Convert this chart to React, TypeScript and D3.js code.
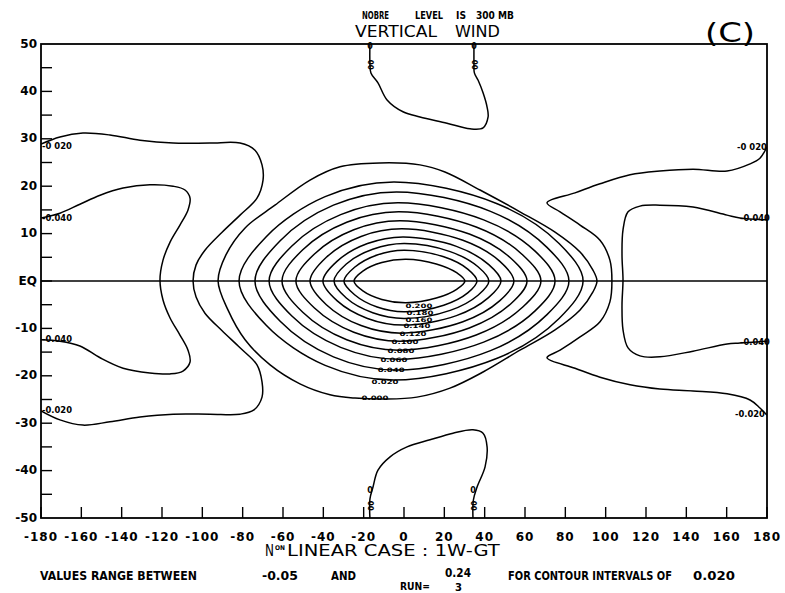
import React from "react";
import * as d3 from "d3";

// Frame and axis ticks
const lonTicks = d3.range(-180, 181, 20);
const latMajor = [50, 40, 30, 20, 10, 0, -10, -20, -30, -40, -50];
const latLabels = ["50", "40", "30", "20", "10", "EQ", "-10", "-20", "-30", "-40", "-50"];
const latMinor = d3.range(-45, 50, 5);

// Contour levels of the central maximum (0.000 outermost, 0.200 innermost)
const centralLevels = [0.0, 0.02, 0.04, 0.06, 0.08, 0.1, 0.12, 0.14, 0.16, 0.18, 0.2];

// Closed contours as [lon, lat]
const c000 = [[-92.2, 0], [-88.3, 5.5], [-78.8, 11.2], [-64, 16], [-46.6, 21.3], [-31.7, 24.1], [-11.9, 24.9], [7.9, 24.5], [20.3, 23], [37.7, 19.2], [57.5, 14.6], [74.9, 10.3], [87.3, 6.1], [93.7, 2.3], [95.7, 0], [93.7, -2.3], [87.3, -6.1], [74.9, -10.3], [57.5, -14.6], [39.2, -19.2], [22.8, -22.6], [6.4, -24.5], [-9.4, -24.9], [-24.3, -24.7], [-36.7, -24], [-51.6, -21.7], [-66.4, -17.7], [-78.8, -12.4], [-87.3, -6.1]];
const c020 = [[-81.8, 0], [-68.2, 9.4], [-39.1, 17.8], [-5, 20.9], [46.2, 16.3], [76.9, 7.9], [88.8, 0], [76.9, -7.9], [46.2, -16.3], [-5, -20.9], [-39.1, -17.8], [-68.2, -9.4]];
const c040 = [[-73.9, 0], [-61.4, 8.5], [-35, 16], [-3.8, 18.8], [42.9, 14.7], [70.9, 7.1], [81.8, 0], [70.9, -7.1], [42.9, -14.7], [-3.8, -18.8], [-35, -16], [-61.4, -8.5]];
const c060 = [[-66.9, 0], [-55.6, 7.4], [-31.4, 14], [-3.1, 16.5], [39.5, 12.9], [65, 6.3], [74.9, 0], [65, -6.3], [39.5, -12.9], [-3.1, -16.5], [-31.4, -14], [-55.6, -7.4]];
const c080 = [[-60.5, 0], [-50.2, 6.6], [-28.4, 12.4], [-2.7, 14.6], [35.8, 11.4], [58.9, 5.5], [67.9, 0], [58.9, -5.5], [35.8, -11.4], [-2.7, -14.6], [-28.4, -12.4], [-50.2, -6.6]];
const c100 = [[-53.6, 0], [-44.4, 5.7], [-24.9, 10.8], [-2, 12.7], [32.4, 9.9], [53, 4.8], [61, 0], [53, -4.8], [32.4, -9.9], [-2, -12.7], [-24.9, -10.8], [-44.4, -5.7]];
const c120 = [[-46.6, 0], [-38.5, 5], [-21.3, 9.4], [-1.1, 11], [29.2, 8.6], [47.4, 4.2], [54.5, 0], [47.4, -4.2], [29.2, -8.6], [-1.1, -11], [-21.3, -9.4], [-38.5, -5]];
const c140 = [[-40.2, 0], [-33.1, 4.2], [-18.1, 7.9], [-0.5, 9.3], [26, 7.3], [41.9, 3.5], [48.1, 0], [41.9, -3.5], [26, -7.3], [-0.5, -9.3], [-18.1, -7.9], [-33.1, -4.2]];
const c160 = [[-34.7, 0], [-28.6, 3.6], [-15.5, 6.7], [0, 7.9], [22.9, 6.2], [36.7, 3], [42.1, 0], [36.7, -3], [22.9, -6.2], [0, -7.9], [-15.5, -6.7], [-28.6, -3.6]];
const c180 = [[-29.8, 0], [-24.5, 2.9], [-13.3, 5.5], [0, 6.5], [19.7, 5.1], [31.6, 2.5], [36.2, 0], [31.6, -2.5], [19.7, -5.1], [0, -6.5], [-13.3, -5.5], [-24.5, -2.9]];
const c200 = [[-24.8, 0], [-20.4, 2.1], [-11, 3.9], [1, 4.6], [16, 3.6], [26.3, 1.7], [30.2, 0], [26.3, -1.7], [16, -3.6], [1, -4.6], [-11, -3.9], [-20.4, -2.1]];
const centralRings = [c000, c020, c040, c060, c080, c100, c120, c140, c160, c180, c200];

// Where each central level is annotated (lon, lat)
const centralLabelLon = [-14.4, -9.4, -6.4, -5, -1.5, 0.5, 4.5, 6.4, 7.4, 7.9, 7.4];
const centralLabelLat = [-24.7, -21.3, -18.8, -16.7, -14.8, -12.9, -11.2, -9.6, -8.2, -6.8, -5.3];

// Negative contours wrapping the dateline (open at the frame)
const m020West = [[-180, 28.9], [-170.6, 30.4], [-159.2, 31.2], [-145.8, 30.8], [-130.9, 29.7], [-114.5, 29.1], [-96.2, 29.1], [-81.3, 29.1], [-73.9, 27.6], [-70.4, 24.5], [-69.9, 21.3], [-72.9, 17.5], [-81.3, 13.9], [-90.2, 10.3], [-98.7, 6.5], [-103.1, 3.4], [-104.6, 0], [-103.1, -3.4], [-98.7, -6.8], [-90.2, -10.5], [-81.3, -14.1], [-72.9, -17.7], [-70.4, -21.3], [-70.4, -24.5], [-74.4, -27.2], [-81.3, -28.1], [-96.2, -28.1], [-114.5, -28.1], [-130.9, -28.7], [-145.8, -29.7], [-159.2, -30.4], [-170.6, -29.3], [-180, -27.4]];
const m020East = [[180, 28.3], [176.5, 25.9], [171.6, 24.7], [160.2, 23.2], [143.3, 23.6], [126.9, 23.2], [112.1, 22.4], [97.2, 20.5], [84.8, 18.6], [70.9, 16.5], [77.4, 14.6], [87.3, 11.8], [97.2, 8.6], [102.1, 4.4], [103.1, 0], [102.1, -4.4], [97.2, -8.6], [87.3, -11.8], [77.4, -14.6], [70.9, -16.2], [84.8, -18.4], [97.2, -20.3], [112.1, -21.9], [126.9, -22.8], [143.3, -23.2], [160.2, -23.8], [171.6, -25.1], [176.5, -26.8], [180, -28.3]];
const m040West = [[-180, 13.3], [-170.6, 14.3], [-160.7, 16.2], [-150.7, 18.1], [-139.3, 19.6], [-126, 20.3], [-114.5, 20], [-108.6, 19.2], [-106.1, 17.5], [-107.1, 15], [-111.1, 11.8], [-116, 8.2], [-119.5, 4.4], [-121, 0.2], [-119.5, -4], [-116, -7.8], [-111.1, -11.4], [-107.1, -14.6], [-106.1, -17.1], [-109.6, -19], [-116, -19.6], [-126, -19.4], [-139.3, -18.4], [-150.7, -16.2], [-160.7, -13.7], [-170.6, -12.7], [-180, -12.4]];
const m040East = [[180, 12.9], [166.6, 13.3], [160.2, 13.9], [143.3, 15.6], [126.9, 16], [117, 15.8], [111.1, 14.6], [108.6, 10.8], [108.1, 5.5], [108.6, 0.2], [108.1, -5.1], [108.6, -10.3], [111.1, -14.1], [117, -15.8], [126.9, -16], [143.3, -14.8], [160.2, -13.3], [166.6, -13.1], [180, -12.7]];

// Zero contours of the polar lobes
const zeroNorth = [[-16.9, 50], [-16.9, 46], [-16.4, 43.9], [-12.9, 41.8], [-8.4, 38.2], [-0.5, 35.7], [7.9, 34.6], [21.3, 33.3], [32.7, 32.1], [39.2, 32.3], [41.7, 34.6], [41.2, 36.7], [39.2, 39.7], [36.7, 42.4], [34.9, 43.9], [34.7, 46], [34.7, 50]];
const zeroSouth = [[-16.9, -50], [-16.9, -46], [-15.4, -43.5], [-12.9, -39.9], [-6.9, -37.1], [1.5, -35], [12.9, -33.5], [24.3, -32.1], [34.2, -31.4], [39.2, -32.1], [41.2, -35], [40.2, -39.2], [36.2, -43.5], [34.4, -46.2], [34.2, -50]];

// Annotations of the dateline contours: text, lon, lat
const edgeLabelText = ["-0 020", "-0.040", "-0.040", "-0.020", "-0 020", "-0.040", "-0.040", "-0.020"];
const edgeLabelLon = [-179.5, -179.5, -179.5, -179.5, 165.1, 166.6, 166.6, 164.1];
const edgeLabelLat = [28.3, 13.1, -12.4, -27.4, 28.1, 13.1, -12.9, -28.1];

// Zero-contour tags on the lobe legs: lon, lat
const zeroTagLon = [-16.9, 34.7, -16.9, 34.2];
const zeroTagLat = [49.4, 49.4, -44.1, -44.1];
const zeroTagOvalLat = [45.6, 45.6, -47.4, -47.4];

const FAMILY = "DejaVu Sans";
const FONT = "'DejaVu Sans', 'Liberation Sans', sans-serif";

// Text width helper so that labels can be squeezed horizontally to a set width
let measureCtx: CanvasRenderingContext2D | null = null;
function textWidth(str: string, size: number, weight: number): number {
  if (!measureCtx && typeof document !== "undefined") {
    measureCtx = document.createElement("canvas").getContext("2d");
  }
  if (!measureCtx) return str.length * size * 0.6;
  measureCtx.font = `${weight} ${size}px "${FAMILY}"`;
  return measureCtx.measureText(str).width || str.length * size * 0.6;
}

type FitProps = {
  x: number;
  y: number;
  w: number;
  size: number;
  weight?: number;
  anchor?: "start" | "middle" | "end";
  baseline?: "middle" | "auto";
  children: string;
};

// Text squeezed to width w (via a horizontal scale, so its box stays true)
function FitText({ x, y, w, size, weight = 400, anchor = "start", baseline = "auto", children }: FitProps) {
  const k = w / textWidth(children, size, weight);
  return (
    <text
      transform={`translate(${x},${y}) scale(${k},1)`}
      fontSize={size}
      fontWeight={weight}
      textAnchor={anchor}
      dominantBaseline={baseline === "middle" ? "middle" : undefined}
    >
      {children}
    </text>
  );
}

export default function App() {
  const left = 41, right = 767, top = 44, bottom = 518;
  const x = d3.scaleLinear().domain([-180, 180]).range([left, right]);
  const y = d3.scaleLinear().domain([-50, 50]).range([bottom, top]);

  const closed = d3
    .line<number[]>()
    .x((d) => x(d[0]))
    .y((d) => y(d[1]))
    .curve(d3.curveCatmullRomClosed.alpha(0.5));
  const open = d3
    .line<number[]>()
    .x((d) => x(d[0]))
    .y((d) => y(d[1]))
    .curve(d3.curveCatmullRom.alpha(0.5));

  const openCurves = [m020West, m020East, m040West, m040East, zeroNorth, zeroSouth];
  const lineStyle = { fill: "none", stroke: "#000", strokeWidth: 1.5, strokeLinejoin: "round" as const };

  return (
    <svg
      width={785}
      height={593}
      style={{ position: "absolute", left: 0, top: 0, background: "#fff" }}
      fontFamily={FONT}
    >
      <defs>
        <clipPath id="plotArea">
          <rect x={left} y={top} width={right - left} height={bottom - top} />
        </clipPath>
      </defs>
      <rect x={0} y={0} width={785} height={593} fill="#fff" />

      {/* Contours */}
      <g clipPath="url(#plotArea)">
        {centralRings.map((ring, i) => (
          <path key={"c" + i} d={closed(ring) || ""} {...lineStyle} />
        ))}
        {openCurves.map((c, i) => (
          <path key={"o" + i} d={open(c) || ""} {...lineStyle} />
        ))}
        <line x1={left} x2={right} y1={y(0)} y2={y(0)} stroke="#000" strokeWidth={1.4} />
      </g>

      {/* Contour annotations */}
      <g fill="#000">
        {centralLevels.map((v, i) => (
          <FitText
            key={"cl" + i}
            x={x(centralLabelLon[i])}
            y={y(centralLabelLat[i])}
            w={27}
            size={6}
            weight={700}
            anchor="middle"
            baseline="middle"
          >
            {v.toFixed(3)}
          </FitText>
        ))}
        {edgeLabelText.map((t, i) => (
          <FitText key={"el" + i} x={x(edgeLabelLon[i])} y={y(edgeLabelLat[i])} w={30} size={8} weight={700} baseline="middle">
            {t}
          </FitText>
        ))}
        {zeroTagLon.map((lon, i) => (
          <g key={"zt" + i} fontWeight={700}>
            <text x={x(lon)} y={y(zeroTagLat[i])} textAnchor="middle" dominantBaseline="middle" fontSize={8}>
              0
            </text>
            <text
              transform={`translate(${x(lon)},${y(zeroTagOvalLat[i])}) rotate(90) scale(0.9,1)`}
              textAnchor="middle"
              dominantBaseline="middle"
              fontSize={8}
            >
              00
            </text>
          </g>
        ))}
      </g>

      {/* Frame */}
      <rect x={left} y={top} width={right - left} height={bottom - top} fill="none" stroke="#000" strokeWidth={1.8} />

      {/* Latitude ticks (inside, left) */}
      {latMinor.map((v) => (
        <line key={"yt" + v} x1={left} x2={left + 11} y1={y(v)} y2={y(v)} stroke="#000" strokeWidth={1.4} />
      ))}
      {/* Longitude ticks (inside, bottom) */}
      {lonTicks.map((v) => (
        <line key={"xt" + v} x1={x(v)} x2={x(v)} y1={bottom} y2={bottom - 11} stroke="#000" strokeWidth={1.4} />
      ))}

      {/* Axis labels */}
      <g fontSize={12} fontWeight={700} fill="#000">
        {latMajor.map((v, i) => (
          <text key={"yl" + v} x={left - 4} y={y(v)} textAnchor="end" dominantBaseline="middle">
            {latLabels[i]}
          </text>
        ))}
        {lonTicks.map((v) => (
          <text key={"xl" + v} x={x(v)} y={537} textAnchor="middle" dominantBaseline="middle" letterSpacing={1}>
            {v}
          </text>
        ))}
      </g>

      {/* Titles */}
      <g fill="#000">
        <FitText x={362} y={19} w={27} size={10} weight={700}>NOBRE</FitText>
        <FitText x={415} y={19} w={28} size={10} weight={700}>LEVEL</FitText>
        <FitText x={456} y={19} w={10} size={10} weight={700}>IS</FitText>
        <FitText x={476} y={19} w={38} size={10} weight={700}>300 MB</FitText>
        <FitText x={355} y={36.5} w={82} size={16.5}>VERTICAL</FitText>
        <FitText x={455} y={36.5} w={45} size={16.5}>WIND</FitText>
        <FitText x={705} y={42} w={50} size={26}>(C)</FitText>

        <FitText x={265} y={556} w={9} size={15}>N</FitText>
        <FitText x={275} y={550} w={10} size={6.5} weight={700}>ON</FitText>
        <FitText x={287} y={556} w={213} size={15}>LINEAR CASE : 1W-GT</FitText>

        <FitText x={40} y={580} w={157} size={12} weight={700}>VALUES RANGE BETWEEN</FitText>
        <FitText x={262} y={580} w={36} size={12} weight={700}>-0.05</FitText>
        <FitText x={331} y={580} w={25} size={12} weight={700}>AND</FitText>
        <FitText x={445} y={577} w={26} size={12} weight={700}>0.24</FitText>
        <FitText x={400} y={590} w={30} size={10} weight={700}>RUN=</FitText>
        <FitText x={455} y={591} w={7} size={11} weight={700}>3</FitText>
        <FitText x={508} y={580} w={164} size={12} weight={700}>FOR CONTOUR INTERVALS OF</FitText>
        <FitText x={693} y={580} w={42} size={12} weight={700}>0.020</FitText>
      </g>
    </svg>
  );
}
